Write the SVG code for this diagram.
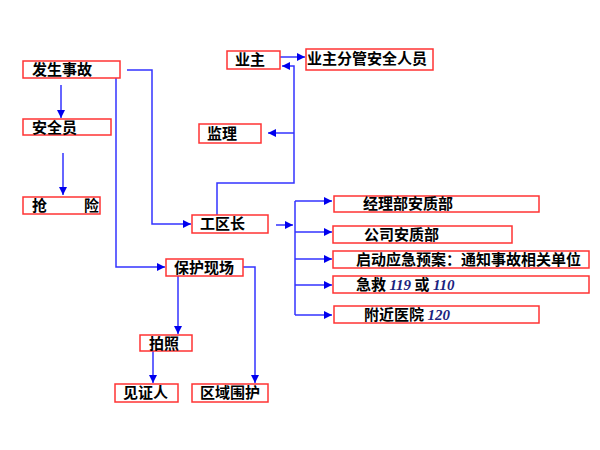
<svg xmlns="http://www.w3.org/2000/svg" width="600" height="450" viewBox="0 0 600 450">
<style>
.box{fill:#fff;stroke:#ff3333;stroke-width:1.5}
.t{font-family:"Noto Sans CJK SC","DejaVu Sans",sans-serif;font-size:15px;font-weight:bold;fill:#000}
.n{font-family:"Liberation Serif",serif;font-style:italic;font-weight:bold;fill:#1a237e}
.c{fill:none;stroke:#3333ff;stroke-width:1.5}
</style>
<defs>
<marker id="a" viewBox="0 0 10 10" refX="10" refY="5" markerWidth="8" markerHeight="8" markerUnits="userSpaceOnUse" orient="auto">
<path d="M0,0 L10,5 L0,10 z" fill="#0000ee"/>
</marker>
</defs>
<rect width="600" height="450" fill="#fff"/>
<g id="connectors">
<path class="c" d="M61,85 V118" marker-end="url(#a)"/>
<path class="c" d="M63,153 V195" marker-end="url(#a)"/>
<path class="c" d="M127,70 H152 V224 H191" marker-end="url(#a)"/>
<path class="c" d="M116,78 V267 H165" marker-end="url(#a)"/>
<path class="c" d="M280,57 H305" marker-end="url(#a)"/>
<path class="c" d="M217,215 V183 H294 V66 H282" marker-end="url(#a)"/>
<path class="c" d="M294,133 H268" marker-end="url(#a)"/>
<path class="c" d="M276,225 H293" marker-end="url(#a)"/>
<path class="c" d="M295,201 V315"/>
<path class="c" d="M295,201 H332" marker-end="url(#a)"/>
<path class="c" d="M295,232 H332" marker-end="url(#a)"/>
<path class="c" d="M295,259 H332" marker-end="url(#a)"/>
<path class="c" d="M295,285 H332" marker-end="url(#a)"/>
<path class="c" d="M295,315 H332" marker-end="url(#a)"/>
<path class="c" d="M178,276 V334" marker-end="url(#a)"/>
<path class="c" d="M153,351 V383" marker-end="url(#a)"/>
<path class="c" d="M243,267 H255 V383" marker-end="url(#a)"/>
</g>
<g id="n1"><rect class="box" x="23" y="61" width="97" height="17"/><text class="t" x="32" y="75">发生事故</text></g>
<g id="n2"><rect class="box" x="23" y="119" width="88" height="16"/><text class="t" x="32" y="133">安全员</text></g>
<g id="n3"><rect class="box" x="23" y="197" width="77" height="17"/><text class="t" y="211"><tspan x="32">抢</tspan><tspan x="84">险</tspan></text></g>
<g id="n4"><rect class="box" x="227" y="51" width="53" height="18"/><text class="t" x="235" y="65">业主</text></g>
<g id="n5"><rect class="box" x="306" y="49" width="127" height="21"/><text class="t" x="307" y="64">业主分管安全人员</text></g>
<g id="n6"><rect class="box" x="199" y="124" width="62" height="19"/><text class="t" x="207" y="139">监理</text></g>
<g id="n7"><rect class="box" x="192" y="215" width="76" height="18"/><text class="t" x="200" y="229">工区长</text></g>
<g id="n8"><rect class="box" x="166" y="259" width="77" height="17"/><text class="t" x="174" y="273">保护现场</text></g>
<g id="n9"><rect class="box" x="334" y="196" width="205" height="16"/><text class="t" x="363" y="209">经理部安质部</text></g>
<g id="n10"><rect class="box" x="333" y="226" width="179" height="17"/><text class="t" x="364" y="240">公司安质部</text></g>
<g id="n11"><rect class="box" x="333" y="251" width="256" height="17"/><text class="t" x="356" y="265">启动应急预案：通知事故相关单位</text></g>
<g id="n12"><rect class="box" x="333" y="276" width="256" height="17"/><text class="t" x="356" y="290">急救 <tspan class="n">119</tspan> 或 <tspan class="n">110</tspan></text></g>
<g id="n13"><rect class="box" x="334" y="306" width="205" height="17"/><text class="t" x="364" y="320">附近医院 <tspan class="n">120</tspan></text></g>
<g id="n14"><rect class="box" x="140" y="335" width="52" height="16"/><text class="t" x="149" y="349">拍照</text></g>
<g id="n15"><rect class="box" x="115" y="384" width="63" height="18"/><text class="t" x="123" y="398">见证人</text></g>
<g id="n16"><rect class="box" x="192" y="384" width="76" height="18"/><text class="t" x="200" y="398">区域围护</text></g>
</svg>
